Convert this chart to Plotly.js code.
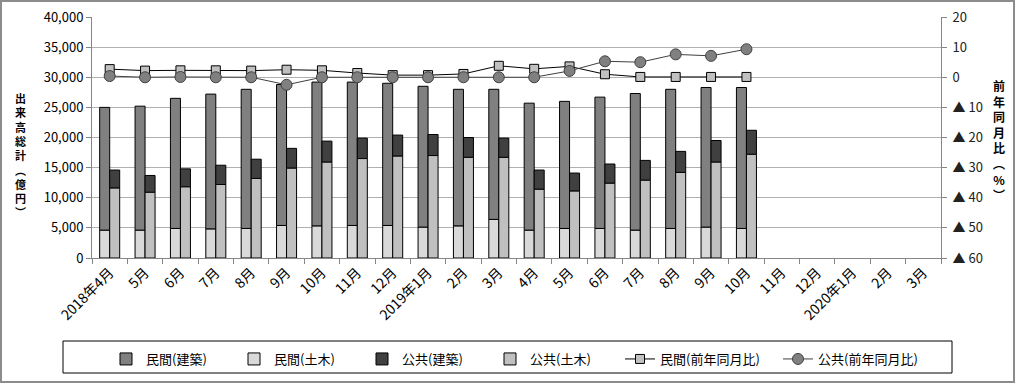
<!DOCTYPE html>
<html><head><meta charset="utf-8">
<script src="https://cdn.plot.ly/plotly-3.0.1.min.js"></script>
<style>html,body{margin:0;padding:0;background:#fff}#chart{width:1016px;height:384px}</style>
</head><body><div id="chart"></div>
<script>
// ---- data ----
const months = ["2018年4月","5月","6月","7月","8月","9月","10月","11月","12月","2019年1月","2月","3月","4月","5月","6月","7月","8月","9月","10月","11月","12月","2020年1月","2月","3月"];
const minkanKenchiku = [20400,20600,21600,22400,23100,23400,23900,23800,23600,23400,22700,21600,21100,21100,21800,22700,23100,23200,23400];
const minkanDoboku   = [4600,4600,4900,4800,4900,5400,5300,5400,5400,5100,5300,6400,4600,4900,4900,4600,4900,5100,4900];
const kokyoKenchiku  = [3000,2800,3000,3200,3200,3300,3500,3400,3500,3500,3300,3200,3200,3000,3200,3300,3500,3600,4000];
const kokyoDoboku    = [11600,10900,11800,12200,13200,14900,15900,16500,16900,17000,16700,16700,11400,11100,12400,12900,14200,15900,17200];
const minkanYoY = [2.7,2.2,2.3,2.3,2.2,2.5,2.3,1.4,0.7,0.7,1.1,3.8,2.8,3.6,1.0,0.1,0.1,0.1,0.1];
const kokyoYoY  = [0.4,0.0,0.1,0.0,0.0,-2.5,0.0,0.0,0.0,0.0,0.0,0.0,0.0,2.1,5.3,5.0,7.6,7.1,9.3];
const leftTickVals = [0,5000,10000,15000,20000,25000,30000,35000,40000];
const rightTickVals = [20,10,0,-10,-20,-30,-40,-50,-60];
const rightTickText = ["20","10","0","▲ 10","▲ 20","▲ 30","▲ 40","▲ 50","▲ 60"];
// vertical (tategaki) titles; brackets in their vertical presentation forms
const leftTitle = "出来高総計︵億円︶";
const rightTitle = "前年同月比︵%︶";

// ---- layout geometry ----
const FW = 1016, FH = 384, L = 92, R = 941, T = 17, B = 258;
const PW = R - L, PH = B - T;
const px2x = p => (p - L) / PW;
const px2y = p => (B - p) / PH;
const FONT = '"Noto Sans CJK JP", "Noto Sans", sans-serif';

const xs = minkanKenchiku.map((_, i) => i);
const BW = 0.283;
const edge = {color: '#000', width: 1};

const traces = [
  {type:'bar', name:'民間(建築)', x: xs, y: minkanKenchiku, base: minkanDoboku, width: BW, offset: -BW,
   marker:{color:'#808080', line: edge}},
  {type:'bar', name:'民間(土木)', x: xs, y: minkanDoboku, width: BW, offset: -BW,
   marker:{color:'#d9d9d9', line: edge}},
  {type:'bar', name:'公共(建築)', x: xs, y: kokyoKenchiku, base: kokyoDoboku, width: BW, offset: 0,
   marker:{color:'#404040', line: edge}},
  {type:'bar', name:'公共(土木)', x: xs, y: kokyoDoboku, width: BW, offset: 0,
   marker:{color:'#c0c0c0', line: edge}},
  {type:'scatter', mode:'lines+markers', name:'民間(前年同月比)', x: xs, y: minkanYoY, yaxis:'y2', legend:'legend2',
   line:{color:'#000', width:1}, marker:{symbol:'square', size:9, color:'#c0c0c0', line:{color:'#000', width:1}}},
  {type:'scatter', mode:'lines+markers', name:'公共(前年同月比)', x: xs, y: kokyoYoY, yaxis:'y2', legend:'legend2',
   line:{color:'#404040', width:1}, marker:{symbol:'circle', size:11, color:'#808080', line:{color:'#404040', width:1}}}
];

const vert = s => [...s].join('<br>');
const boundaries = months.map((_, i) => i - 0.5).concat([months.length - 0.5]);
const legendCommon = {orientation:'h', xanchor:'left', yanchor:'top', bgcolor:'rgba(0,0,0,0)', borderwidth:0,
  font:{size:13, family: FONT}, entrywidthmode:'pixels', traceorder:'normal'};

const layout = {
  width: FW, height: FH,
  margin: {l: L, r: FW - R, t: T, b: FH - B, pad: 0, autoexpand: false},
  paper_bgcolor:'#fff', plot_bgcolor:'#fff',
  barmode:'overlay',
  showlegend: true,
  font:{family: FONT, color:'#000', size: 13},
  xaxis:{range:[-0.5, months.length - 0.5], tickmode:'array', tickvals: months.map((_, i) => i), ticktext: months,
    tickangle:-45, ticks:'', showline:true, linecolor:'#868686', linewidth:1, showgrid:false, zeroline:false,
    automargin:false, tickfont:{size:14, family: FONT},
    minor:{tickmode:'array', tickvals: boundaries, ticks:'outside', ticklen:5, tickcolor:'#868686', showgrid:false}},
  yaxis:{range:[0, 40000], tickmode:'array', tickvals: leftTickVals, tickformat:',d', ticks:'outside', ticklen:5,
    tickcolor:'#868686', showline:true, linecolor:'#868686', gridcolor:'#b0b0b0', zeroline:false, automargin:false,
    tickfont:{size:13, family: FONT}},
  yaxis2:{overlaying:'y', side:'right', range:[-60, 20], tickmode:'array', tickvals: rightTickVals, ticktext: rightTickText,
    ticks:'outside', ticklen:5, tickcolor:'#868686', showline:true, linecolor:'#868686', showgrid:false, zeroline:false,
    automargin:false, ticklabelstandoff: 3, tickfont:{size:13, family: FONT, color:'#222'}},
  legend: Object.assign({}, legendCommon, {x: px2x(106), y: px2y(344), entrywidth: 83}),
  legend2: Object.assign({}, legendCommon, {x: px2x(620), y: px2y(344), entrywidth: 113}),
  shapes:[
    {type:'rect', xref:'paper', yref:'paper', x0: px2x(63), x1: px2x(952), y0: px2y(341), y1: px2y(373),
     line:{color:'#000', width:1}, fillcolor:'rgba(0,0,0,0)', layer:'above'},
    {type:'rect', xref:'paper', yref:'paper', x0: px2x(1), x1: px2x(FW - 2), y0: px2y(FH - 2), y1: px2y(1),
     line:{color:'#8c8c8c', width:2}, fillcolor:'rgba(0,0,0,0)', layer:'above'}
  ],
  annotations: [
    {xref:'paper', yref:'paper', x: px2x(20), y: px2y(155), xanchor:'center', yanchor:'middle', showarrow:false,
     text: vert(leftTitle), font:{family: FONT, size: 11, color:'#000', weight:'bold'}},
    {xref:'paper', yref:'paper', x: px2x(998.5), y: px2y(140), xanchor:'center', yanchor:'middle', showarrow:false,
     text: vert(rightTitle), font:{family: FONT, size: 12, color:'#000', weight:'bold'}}
  ]
};

Plotly.newPlot('chart', traces, layout, {displayModeBar:false, staticPlot:true});
</script></body></html>
